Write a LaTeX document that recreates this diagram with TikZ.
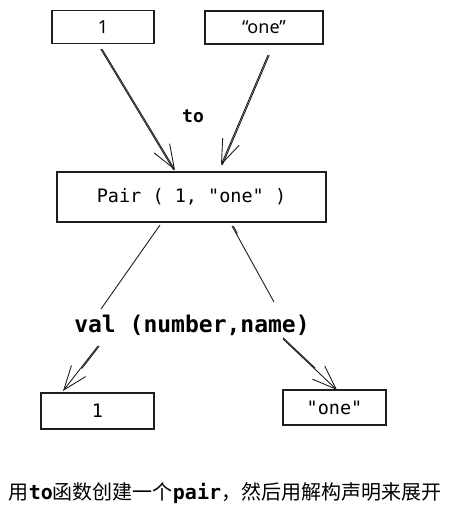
\documentclass[tikz,border=0pt]{standalone}
\usepackage{fontspec}
\setmainfont{Noto Sans}
\setmonofont{DejaVu Sans Mono}
\newfontfamily\cjk{Noto Sans CJK SC}
\usetikzlibrary{arrows.meta,calc}
\definecolor{ink}{HTML}{1E1E1E}
\tikzset{
  sketchbox/.style={draw=ink, line width=1.2pt, rectangle, inner sep=0pt, anchor=center},
  conn/.style={draw=ink, line width=0.9pt},
  tipconn/.style={conn, -{Straight Barb[length=24pt,width=18pt,line width=0.9pt]}},
  hand/.style={font=\fontsize{18}{20}\selectfont},
  code/.style={font=\fontsize{18.5}{22}\selectfont\ttfamily},
}
\begin{document}
\begin{tikzpicture}[x=1pt,y=-1pt]
\useasboundingbox (0,0) rectangle (450,516);
% boxes
\node[sketchbox, minimum width=102pt, minimum height=33pt, hand] (b1) at (103,27) {1};
\node[sketchbox, minimum width=118pt, minimum height=33pt, hand] (b2) at (264,27.5) {“one”};
\node[sketchbox, minimum width=269pt, minimum height=50pt, code] (pair) at (191.5,197) {Pair ( 1, "one" )};
\node[font=\fontsize{23}{26}\selectfont\ttfamily\bfseries] (val) at (192,325) {val (number,name)};
\node[sketchbox, minimum width=113pt, minimum height=36pt, code] (o1) at (97.5,411) {1};
\node[sketchbox, minimum width=103pt, minimum height=35pt, code] (o2) at (334.5,407.5) {"one"};
\node[font=\fontsize{18}{20}\selectfont\ttfamily\bfseries] (to) at (193,116) {to};
\node[font=\fontsize{20}{24}\selectfont] (cap) at (225,493) {\cjk 用\texttt{\bfseries to}函数创建一个\texttt{\bfseries pair}，然后用解构声明来展开};
% coordinates for free ends
\coordinate (s1) at (102,49);
\coordinate (s2) at (268,55);
\coordinate (p1) at (160,225);
\coordinate (p2) at (232,226);
\coordinate (v1) at (101,309);
\coordinate (v2) at (274,302);
\coordinate (w1) at (98,346);
\coordinate (w2) at (283,339);
\coordinate (e1) at (175,170);
\coordinate (e2) at (221,165);
\coordinate (f1) at (63,391);
\coordinate (f2) at (337,390);
% connectors
\draw[tipconn] (s1) -- (e1);
\draw[conn, transform canvas={xshift=-1.3pt}] (s1) -- (e1);
\draw[tipconn] (s2) -- (e2);
\draw[conn, transform canvas={xshift=1.3pt}] (s2) -- (e2);
\draw[conn] (p1) -- (v1);
\draw[conn] (p2) -- (v2);
\draw[conn, transform canvas={xshift=1.2pt}] (p2) -- ($(p2)!0.1!(v2)$);
\draw[tipconn] (w1) -- (f1);
\draw[conn, transform canvas={xshift=1.3pt}] (w1) -- ($(w1)!0.5!(f1)$);
\draw[tipconn] (w2) -- (f2);
\draw[conn, transform canvas={yshift=1.3pt}] (w2) -- ($(w2)!0.6!(f2)$);
\end{tikzpicture}
\end{document}
